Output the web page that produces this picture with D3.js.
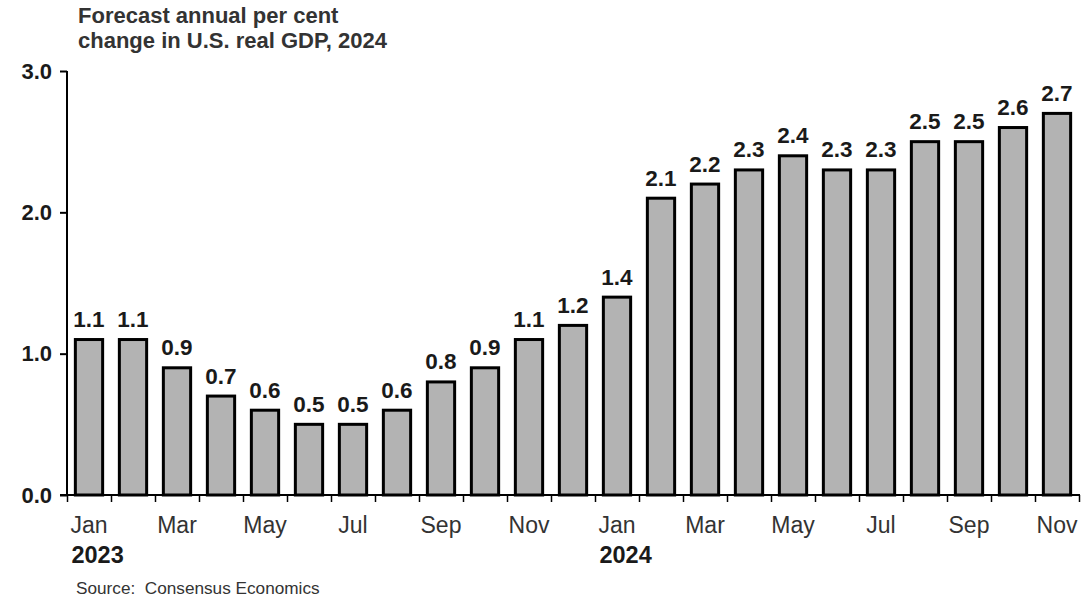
<!DOCTYPE html>
<html>
<head>
<meta charset="utf-8">
<script src="https://cdn.jsdelivr.net/npm/d3@7"></script>
<style>
  html, body { margin: 0; padding: 0; background: #fff; }
  svg { display: block; font-family: "Liberation Sans", Arial, sans-serif; }
</style>
</head>
<body>
<svg id="chart" width="1084" height="600"></svg>
<script>
// ---- data ----
const months = ["Jan","Feb","Mar","Apr","May","Jun","Jul","Aug","Sep","Oct","Nov","Dec",
                "Jan","Feb","Mar","Apr","May","Jun","Jul","Aug","Sep","Oct","Nov"];
const years  = ["2023","2023","2023","2023","2023","2023","2023","2023","2023","2023","2023","2023",
                "2024","2024","2024","2024","2024","2024","2024","2024","2024","2024","2024"];
const values = [1.1,1.1,0.9,0.7,0.6,0.5,0.5,0.6,0.8,0.9,1.1,1.2,
                1.4,2.1,2.2,2.3,2.4,2.3,2.3,2.5,2.5,2.6,2.7];
const yTicks = [0,1,2,3];
const titleLines = ["Forecast annual per cent", "change in U.S. real GDP, 2024"];
const sourceText = "Source:  Consensus Economics";

const ids = months.map((m, i) => i);

const svg = d3.select("#chart");
const pL = 67, pR = 1079, pT = 71, pB = 495;

const x = d3.scaleBand().domain(ids).range([pL, pR]).paddingInner(0.38).paddingOuter(0.19);
const y = d3.scaleLinear().domain([0, 3]).range([pB, pT]);
const step = x.step();

// title
svg.append("g").selectAll("text").data(titleLines).join("text")
  .attr("x", 78).attr("y", (d, i) => 23 + i * 25)
  .attr("font-size", 22).attr("font-weight", "bold").attr("fill", "#333")
  .text(d => d);

// bars
svg.append("g").selectAll("rect").data(values).join("rect")
  .attr("x", (d, i) => x(i))
  .attr("y", d => y(d))
  .attr("width", x.bandwidth())
  .attr("height", d => y(0) - y(d))
  .attr("fill", "#b3b3b3")
  .attr("stroke", "#000")
  .attr("stroke-width", 3);

// value labels
svg.append("g").selectAll("text").data(values).join("text")
  .attr("x", (d, i) => x(i) + x.bandwidth() / 2)
  .attr("y", d => y(d) - 12.5)
  .attr("text-anchor", "middle")
  .attr("font-size", 22.5).attr("font-weight", "bold").attr("fill", "#1a1a1a")
  .text(d => d.toFixed(1));

// y axis
const yAxis = d3.axisLeft(y).tickValues(yTicks).tickFormat(d3.format(".1f")).tickSize(7).tickPadding(8);
const gy = svg.append("g").attr("transform", `translate(${pL},0)`).call(yAxis);
gy.select(".domain").attr("stroke", "#000").attr("stroke-width", 2).attr("d", `M0,${pT}V${pB}`);
gy.selectAll(".tick line").attr("stroke", "#000").attr("stroke-width", 2);
gy.selectAll(".tick text").attr("font-size", 22).attr("font-weight", "bold").attr("fill", "#1a1a1a")
  .attr("font-family", "Liberation Sans, Arial, sans-serif");

// x axis (ticks at band boundaries)
const boundaries = d3.range(months.length + 1).map(i => pL + i * step);
const xb = d3.scaleLinear().domain([pL, pR]).range([pL, pR]);
const xAxis = d3.axisBottom(xb).tickValues(boundaries).tickFormat("").tickSize(7);
const gx = svg.append("g").attr("transform", `translate(0,${pB})`).call(xAxis);
gx.select(".domain").attr("stroke", "#000").attr("stroke-width", 2).attr("d", `M${pL - 7},0H${pR + 1}`);
gx.selectAll(".tick line").attr("stroke", "#000").attr("stroke-width", 1.5);

// month labels (every other)
const labelIdx = ids.filter(i => i % 2 === 0);
const mlab = svg.append("g").selectAll("text").data(labelIdx).join("text")
  .attr("x", i => x(i) + x.bandwidth() / 2)
  .attr("y", 533)
  .attr("text-anchor", "middle")
  .attr("font-size", 23).attr("fill", "#333")
  .text(i => months[i]);

// year labels, left aligned with the January label
const yearIdx = ids.filter(i => i === 0 || years[i] !== years[i - 1]);
svg.append("g").selectAll("text").data(yearIdx).join("text")
  .attr("x", i => {
    const node = mlab.filter(j => j === i).node();
    return node ? node.getBBox().x + 1 : x(i);
  })
  .attr("y", 563)
  .attr("font-size", 23.5).attr("font-weight", "bold").attr("fill", "#1a1a1a")
  .text(i => years[i]);

// source
svg.append("text").attr("x", 76).attr("y", 594)
  .attr("font-size", 17.2).attr("fill", "#333")
  .attr("xml:space", "preserve").style("white-space", "pre")
  .text(sourceText);
</script>
</body>
</html>
